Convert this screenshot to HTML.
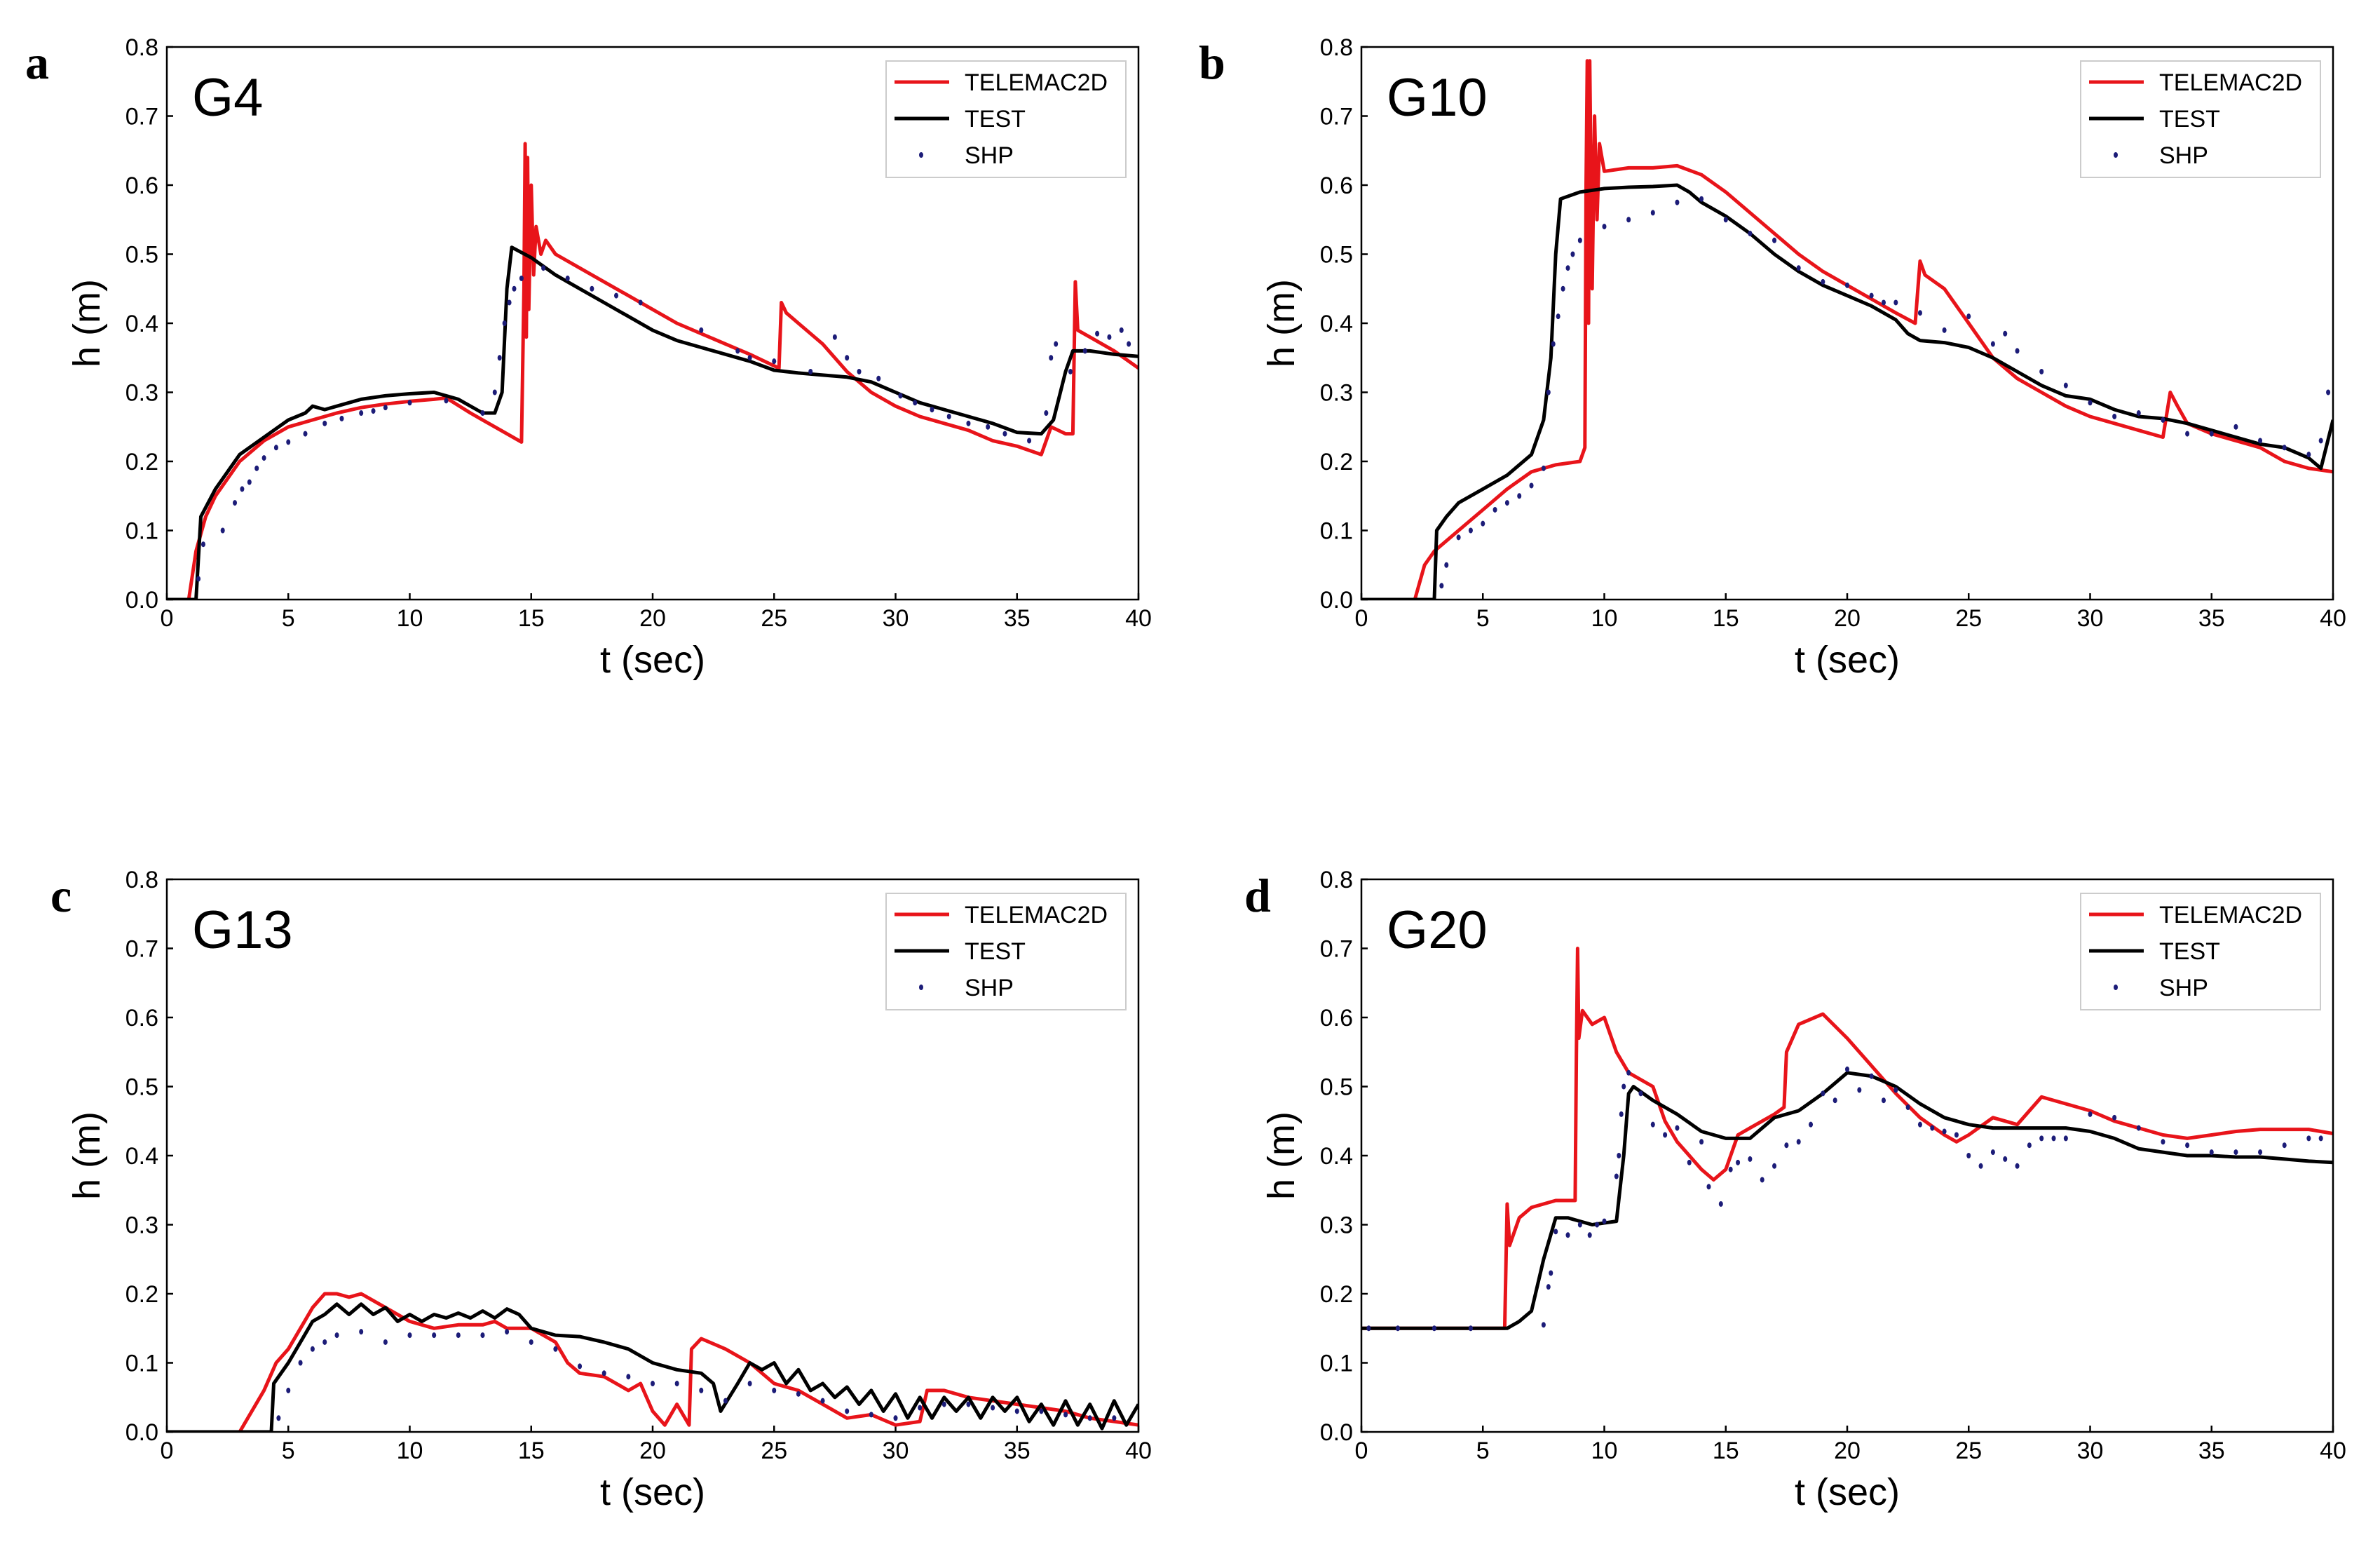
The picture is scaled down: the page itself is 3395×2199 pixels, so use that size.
<!DOCTYPE html>
<html><head><meta charset="utf-8"><style>
html,body{margin:0;padding:0;background:#fff;}
svg{display:block;}
text{font-family:"Liberation Sans",sans-serif;}
text.serif{font-family:"Liberation Serif",serif;}
</style></head><body>
<svg id="fig" width="3395" height="2199" viewBox="0 0 3395 2199" xmlns="http://www.w3.org/2000/svg"></svg>
<script>
const xTicks=[0,5,10,15,20,25,30,35,40];
const yTicks=[0.0,0.1,0.2,0.3,0.4,0.5,0.6,0.7,0.8];
const yTickLabels=["0.0","0.1","0.2","0.3","0.4","0.5","0.6","0.7","0.8"];
const panelNames=["G4","G10","G13","G20"];
const panelLetters=["a","b","c","d"];
const legendLabels=["TELEMAC2D","TEST","SHP"];

const g4Telemac=[[0,0],[0.9,0],[1.2,0.07],[1.6,0.12],[2,0.15],[3,0.2],[4,0.23],[5,0.25],[6,0.26],[7,0.27],[8,0.278],[9,0.283],[10,0.287],[11,0.29],[11.5,0.292],[12.5,0.27],[13,0.26],[14,0.24],[14.6,0.228],[14.7,0.45],[14.75,0.66],[14.8,0.38],[14.85,0.64],[14.9,0.42],[15,0.6],[15.1,0.47],[15.2,0.54],[15.4,0.5],[15.6,0.52],[16,0.5],[17,0.48],[18,0.46],[19,0.44],[20,0.42],[21,0.4],[22,0.385],[23,0.37],[24,0.355],[25.2,0.335],[25.3,0.43],[25.5,0.415],[26,0.4],[27,0.37],[28,0.33],[29,0.3],[30,0.28],[31,0.265],[32,0.255],[33,0.245],[34,0.23],[35,0.222],[36,0.21],[36.4,0.25],[37,0.24],[37.3,0.24],[37.4,0.46],[37.5,0.39],[38,0.38],[39,0.36],[40,0.335]];
const g4Test=[[0,0],[1.2,0],[1.4,0.12],[2,0.16],[3,0.21],[4,0.235],[5,0.26],[5.7,0.27],[6,0.28],[6.5,0.275],[7,0.28],[8,0.29],[9,0.295],[10,0.298],[11,0.3],[12,0.29],[13,0.27],[13.5,0.27],[13.8,0.3],[14,0.45],[14.2,0.51],[15,0.495],[16,0.47],[17,0.45],[18,0.43],[19,0.41],[20,0.39],[21,0.375],[22,0.365],[23,0.355],[24,0.345],[25,0.332],[26,0.328],[27,0.325],[28,0.322],[29,0.315],[30,0.3],[31,0.285],[32,0.275],[33,0.265],[34,0.255],[35,0.242],[36,0.24],[36.5,0.26],[37,0.33],[37.3,0.36],[38,0.36],[39,0.355],[40,0.352]];
const g4Shp=[[1.3,0.03],[1.5,0.08],[2.3,0.1],[2.8,0.14],[3.1,0.16],[3.4,0.17],[3.7,0.19],[4,0.205],[4.5,0.22],[5,0.228],[5.7,0.24],[6.5,0.255],[7.2,0.262],[8,0.27],[8.5,0.273],[9,0.278],[10,0.285],[11.5,0.288],[13,0.27],[13.5,0.3],[13.7,0.35],[13.9,0.4],[14.1,0.43],[14.3,0.45],[14.6,0.465],[15.5,0.48],[16.5,0.465],[17.5,0.45],[18.5,0.44],[19.5,0.43],[22,0.39],[23.5,0.36],[24,0.35],[25,0.345],[26.5,0.33],[27.5,0.38],[28,0.35],[28.5,0.33],[29.3,0.32],[30.2,0.295],[30.8,0.285],[31.5,0.275],[32.2,0.265],[33,0.255],[33.8,0.25],[34.5,0.24],[35.5,0.23],[36.2,0.27],[36.4,0.35],[36.6,0.37],[37.2,0.33],[37.8,0.36],[38.3,0.385],[38.8,0.38],[39.3,0.39],[39.6,0.37]];

const g10Telemac=[[0,0],[2.2,0],[2.6,0.05],[3,0.07],[4,0.1],[5,0.13],[6,0.16],[7,0.185],[8,0.195],[9,0.2],[9.2,0.22],[9.25,0.6],[9.3,0.78],[9.35,0.4],[9.4,0.78],[9.5,0.45],[9.6,0.7],[9.7,0.55],[9.8,0.66],[10,0.62],[11,0.625],[12,0.625],[13,0.628],[14,0.615],[15,0.59],[16,0.56],[17,0.53],[18,0.5],[19,0.475],[20,0.455],[21,0.435],[22,0.415],[22.8,0.4],[23,0.49],[23.2,0.47],[24,0.45],[25,0.4],[26,0.35],[27,0.32],[28,0.3],[29,0.28],[30,0.265],[31,0.255],[32,0.245],[33,0.235],[33.3,0.3],[33.6,0.28],[34,0.255],[35,0.24],[36,0.23],[37,0.22],[38,0.2],[39,0.19],[40,0.185]];
const g10Test=[[0,0],[3,0],[3.1,0.1],[3.5,0.12],[4,0.14],[5,0.16],[6,0.18],[7,0.21],[7.5,0.26],[7.8,0.35],[8,0.5],[8.2,0.58],[9,0.59],[10,0.595],[11,0.597],[12,0.598],[13,0.6],[13.5,0.59],[14,0.575],[15,0.555],[16,0.53],[17,0.5],[18,0.475],[19,0.455],[20,0.44],[21,0.425],[22,0.405],[22.5,0.385],[23,0.375],[24,0.372],[25,0.365],[26,0.35],[27,0.33],[28,0.31],[29,0.295],[30,0.29],[31,0.275],[32,0.265],[33,0.262],[34,0.255],[35,0.245],[36,0.235],[37,0.225],[38,0.22],[39,0.205],[39.5,0.19],[40,0.26]];
const g10Shp=[[3.3,0.02],[3.5,0.05],[4,0.09],[4.5,0.1],[5,0.11],[5.5,0.13],[6,0.14],[6.5,0.15],[7,0.165],[7.5,0.19],[7.7,0.3],[7.9,0.37],[8.1,0.41],[8.3,0.45],[8.5,0.48],[8.7,0.5],[9,0.52],[10,0.54],[11,0.55],[12,0.56],[13,0.575],[14,0.58],[15,0.55],[16,0.53],[17,0.52],[18,0.48],[19,0.46],[20,0.455],[21,0.44],[21.5,0.43],[22,0.43],[23,0.415],[24,0.39],[25,0.41],[26,0.37],[26.5,0.385],[27,0.36],[28,0.33],[29,0.31],[30,0.285],[31,0.265],[32,0.27],[33,0.26],[34,0.24],[35,0.24],[36,0.25],[37,0.23],[38,0.22],[39,0.21],[39.5,0.23],[39.8,0.3]];

const g13Telemac=[[0,0],[3,0],[4,0.06],[4.5,0.1],[5,0.12],[5.5,0.15],[6,0.18],[6.5,0.2],[7,0.2],[7.5,0.195],[8,0.2],[8.5,0.19],[9,0.18],[10,0.16],[11,0.15],[12,0.155],[13,0.155],[13.5,0.16],[14,0.15],[15,0.15],[16,0.13],[16.5,0.1],[17,0.085],[18,0.08],[19,0.06],[19.5,0.07],[20,0.03],[20.5,0.01],[21,0.04],[21.5,0.01],[21.6,0.12],[22,0.135],[23,0.12],[24,0.1],[25,0.07],[26,0.06],[27,0.04],[28,0.02],[29,0.025],[30,0.01],[31,0.015],[31.3,0.06],[32,0.06],[33,0.05],[34,0.045],[35,0.04],[36,0.035],[37,0.03],[38,0.02],[39,0.015],[40,0.01]];
const g13Test=[[0,0],[4.3,0],[4.4,0.07],[5,0.1],[5.5,0.13],[6,0.16],[6.5,0.17],[7,0.185],[7.5,0.17],[8,0.185],[8.5,0.17],[9,0.18],[9.5,0.16],[10,0.17],[10.5,0.16],[11,0.17],[11.5,0.165],[12,0.172],[12.5,0.165],[13,0.175],[13.5,0.165],[14,0.178],[14.5,0.17],[15,0.15],[16,0.14],[17,0.138],[18,0.13],[19,0.12],[20,0.1],[21,0.09],[22,0.085],[22.5,0.07],[22.8,0.03],[23.5,0.07],[24,0.1],[24.5,0.09],[25,0.1],[25.5,0.07],[26,0.09],[26.5,0.06],[27,0.07],[27.5,0.05],[28,0.065],[28.5,0.04],[29,0.06],[29.5,0.03],[30,0.055],[30.5,0.02],[31,0.05],[31.5,0.02],[32,0.05],[32.5,0.03],[33,0.05],[33.5,0.02],[34,0.05],[34.5,0.03],[35,0.05],[35.5,0.015],[36,0.04],[36.5,0.01],[37,0.045],[37.5,0.01],[38,0.04],[38.5,0.005],[39,0.045],[39.5,0.01],[40,0.04]];
const g13Shp=[[4.6,0.02],[5,0.06],[5.5,0.1],[6,0.12],[6.5,0.13],[7,0.14],[8,0.145],[9,0.13],[10,0.14],[11,0.14],[12,0.14],[13,0.14],[14,0.145],[15,0.13],[16,0.12],[17,0.095],[18,0.085],[19,0.08],[20,0.07],[21,0.07],[22,0.06],[23,0.045],[24,0.07],[25,0.06],[26,0.055],[27,0.045],[28,0.03],[29,0.025],[30,0.02],[31,0.035],[32,0.04],[33,0.04],[34,0.035],[35,0.03],[36,0.03],[37,0.025],[38,0.02],[39,0.02]];

const g20Telemac=[[0,0.15],[5.9,0.15],[6,0.33],[6.1,0.27],[6.5,0.31],[7,0.325],[8,0.335],[8.8,0.335],[8.85,0.55],[8.9,0.7],[8.95,0.57],[9.1,0.61],[9.5,0.59],[10,0.6],[10.5,0.55],[11,0.52],[12,0.5],[12.5,0.45],[13,0.42],[14,0.38],[14.5,0.365],[15,0.38],[15.5,0.43],[16,0.44],[17,0.46],[17.4,0.47],[17.5,0.55],[18,0.59],[19,0.605],[20,0.57],[21,0.53],[22,0.49],[23,0.455],[24,0.43],[24.5,0.42],[25,0.43],[26,0.455],[27,0.445],[28,0.485],[29,0.475],[30,0.465],[31,0.45],[32,0.44],[33,0.43],[34,0.425],[35,0.43],[36,0.435],[37,0.438],[38,0.438],[39,0.438],[40,0.432]];
const g20Test=[[0,0.15],[6,0.15],[6.5,0.16],[7,0.175],[7.5,0.25],[8,0.31],[8.5,0.31],[9,0.305],[9.5,0.3],[10.5,0.305],[10.8,0.4],[11,0.49],[11.2,0.5],[12,0.48],[13,0.46],[14,0.435],[15,0.425],[16,0.425],[17,0.455],[18,0.465],[19,0.49],[20,0.52],[21,0.515],[22,0.5],[23,0.475],[24,0.455],[25,0.445],[26,0.44],[27,0.44],[28,0.44],[29,0.44],[30,0.435],[31,0.425],[32,0.41],[33,0.405],[34,0.4],[35,0.4],[36,0.398],[37,0.398],[38,0.395],[39,0.392],[40,0.39]];
const g20Shp=[[0.3,0.15],[1.5,0.15],[3,0.15],[4.5,0.15],[7.5,0.155],[7.7,0.21],[7.8,0.23],[8,0.29],[8.5,0.285],[9,0.3],[9.4,0.285],[9.7,0.3],[10,0.305],[10.5,0.37],[10.6,0.4],[10.7,0.46],[10.8,0.5],[11,0.52],[11.5,0.49],[12,0.445],[12.5,0.43],[13,0.44],[13.5,0.39],[14,0.42],[14.3,0.355],[14.8,0.33],[15.2,0.38],[15.5,0.39],[16,0.395],[16.5,0.365],[17,0.385],[17.5,0.415],[18,0.42],[18.5,0.445],[19,0.49],[19.5,0.48],[20,0.525],[20.5,0.495],[21,0.515],[21.5,0.48],[22,0.495],[22.5,0.47],[23,0.445],[23.5,0.44],[24,0.435],[24.5,0.43],[25,0.4],[25.5,0.385],[26,0.405],[26.5,0.395],[27,0.385],[27.5,0.415],[28,0.425],[28.5,0.425],[29,0.425],[30,0.46],[31,0.455],[32,0.44],[33,0.42],[34,0.415],[35,0.405],[36,0.405],[37,0.405],[38,0.415],[39,0.425],[39.5,0.425]];

const telemacSeries=[g4Telemac,g10Telemac,g13Telemac,g20Telemac];
const testSeries=[g4Test,g10Test,g13Test,g20Test];
const shpSeries=[g4Shp,g10Shp,g13Shp,g20Shp];

const NS="http://www.w3.org/2000/svg";
const svg=document.getElementById('fig');
function mk(tag,attrs,parent){const e=document.createElementNS(NS,tag);for(const k in attrs)e.setAttribute(k,attrs[k]);(parent||svg).appendChild(e);return e;}
const W=1386,H=788;
const origins=[[238,67],[1942,67],[238,1254],[1942,1254]];
const letterPos=[[36,112],[1710,112],[72,1300],[1775,1300]];
for(let p=0;p<4;p++){
  const [X0,Y0]=origins[p];
  const sx=v=>X0+v/40*W;
  const sy=v=>Y0+H-v/0.8*H;
  const g=mk('g',{});
  
  
  const lt=mk('text',{x:letterPos[p][0],y:letterPos[p][1],'font-size':68,'font-weight':'bold','class':'serif'},g);
  lt.textContent=panelLetters[p];
  
  
  xTicks.forEach(t=>{
    const tk=mk('line',{x1:sx(t),x2:sx(t),y1:Y0+H,y2:Y0+H-9,stroke:'#000','stroke-width':2.5},g);
    
    
    const tl=mk('text',{x:sx(t),y:Y0+H+38,'font-size':34,'text-anchor':'middle'},g);
    tl.textContent=String(t);
    
    
  });
  yTicks.forEach((t,i)=>{
    const tk=mk('line',{x1:X0,x2:X0+9,y1:sy(t),y2:sy(t),stroke:'#000','stroke-width':2.5},g);
    
    
    const tl=mk('text',{x:X0-12,y:sy(t)+12,'font-size':34,'text-anchor':'end'},g);
    tl.textContent=yTickLabels[i];
    
    
  });
  const xt=mk('text',{x:X0+W/2,y:Y0+H+104,'font-size':54,'text-anchor':'middle'},g);
  xt.textContent='t (sec)';
  
  
  const yt=mk('text',{x:0,y:0,'font-size':54,'text-anchor':'middle',transform:`translate(${X0-96},${Y0+H/2}) rotate(-90)`},g);
  yt.textContent='h (m)';
  
  
  const gn=mk('text',{x:X0+36,y:Y0+98,'font-size':76},g);
  gn.textContent=panelNames[p];
  
  
  const cp=mk('clipPath',{id:'cp'+p},g);
  mk('rect',{x:X0,y:Y0,width:W,height:H},cp);
  const pts=a=>a.map(d=>sx(d[0]).toFixed(1)+','+sy(d[1]).toFixed(1)).join(' ');
  const tele=mk('polyline',{points:pts(telemacSeries[p]),fill:'none',stroke:'#e8141a','stroke-width':5,'stroke-linejoin':'round','clip-path':`url(#cp${p})`},g);
  
  
  const test=mk('polyline',{points:pts(testSeries[p]),fill:'none',stroke:'#000','stroke-width':5,'stroke-linejoin':'round','clip-path':`url(#cp${p})`},g);
  
  
  shpSeries[p].forEach(d=>{
    const c=mk('ellipse',{cx:sx(d[0]),cy:sy(d[1]),rx:3,ry:4,fill:'#1c1c78'},g);
    
    
  });
  const fr=mk('rect',{x:X0,y:Y0,width:W,height:H,fill:'none',stroke:'#000','stroke-width':2.5},g);
  
  
  const lg=mk('g',{},g);
  
  
  const LX=X0+W-360,LY=Y0+20;
  mk('rect',{x:LX,y:LY,width:342,height:166,fill:'#fff',stroke:'#ccc','stroke-width':2},lg);
  const cols=['#e8141a','#000'];
  legendLabels.forEach((lab,i)=>{
    const yy=LY+30+i*52;
    if(i<2){const l=mk('line',{x1:LX+12,x2:LX+90,y1:yy,y2:yy,stroke:cols[i],'stroke-width':5},lg);
      
      }
    else{const c=mk('ellipse',{cx:LX+50,cy:yy,rx:3,ry:4,fill:'#1c1c78'},lg);
      
      }
    const t=mk('text',{x:LX+112,y:yy+12,'font-size':34},lg);
    t.textContent=lab;
    
    
  });
}
</script>
</body></html>
